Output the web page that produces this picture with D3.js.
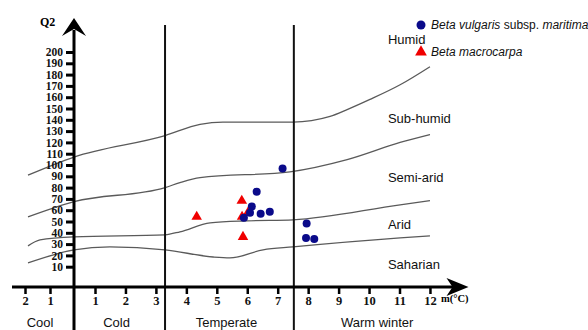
<!DOCTYPE html>
<html>
<head>
<meta charset="utf-8">
<script src="https://cdn.jsdelivr.net/npm/d3@7"></script>
<style>
  body { margin: 0; background: #fff; }
  .serif { font-family: "Liberation Serif", "DejaVu Serif", serif; font-weight: bold; }
  .sans { font-family: "Liberation Sans", Arial, sans-serif; }
</style>
</head>
<body>
<div id="chart"></div>
<script>
(function(){

  // axis ticks
  var xTicks = [-2, -1, 1, 2, 3, 4, 5, 6, 7, 8, 9, 10, 11, 12];
  var yTicks = [10, 20, 30, 40, 50, 60, 70, 80, 90, 100, 110, 120, 130, 140, 150, 160, 170, 180, 190, 200];

  // thermal zones (m boundaries)
  var zoneBounds = [0, 3.3, 7.53];
  var zoneNames = ['Cool', 'Cold', 'Temperate', 'Warm winter'];

  // bioclimatic stages and their label anchors (m, Q2)
  var stageNames = ['Humid', 'Sub-humid', 'Semi-arid', 'Arid', 'Saharian'];
  var stageQ2 = [207, 137, 85, 43, 8];
  var stageM = 10.62;

  // boundary curves between stages
  var curveM = [
    [-1.88, 0, 3.3, 4.45, 5.2, 6.42, 7.5, 8.72, 9.28, 10.03, 11.02, 12.0],
    [-1.88, 0, 3.3, 3.79, 4.45, 7.4, 9.28, 11.02, 12.0],
    [-1.88, -1.4, 0, 3.3, 3.79, 4.78, 5.99, 7.5, 11.02, 12.0],
    [-1.88, 0, 1.49, 3.3, 4.88, 5.43, 6.52, 7.5, 11.02, 12.0]
  ];
  var curveQ2 = [
    [91, 107, 126, 136, 138, 138, 138, 143, 149, 158, 171, 187],
    [54, 67.5, 80, 84.4, 88.8, 94, 104.8, 120, 127],
    [28.4, 33.7, 36.4, 38.2, 40.9, 48.8, 50.6, 51.5, 64.8, 68.4],
    [13.3, 24.9, 27.5, 24.9, 18.6, 17.8, 24.9, 27.5, 35.5, 37.3]
  ];

  // Beta vulgaris subsp. maritima
  var vulgarisM  = [7.16, 6.31, 6.15, 6.09, 5.89, 6.44, 6.74, 7.95, 7.93, 8.20];
  var vulgarisQ2 = [96.8, 76.4, 63.3, 57.7, 53.3, 56.8, 58.6, 48.2, 35.3, 34.6];
  // Beta macrocarpa
  var macroM  = [4.34, 5.82, 5.83, 6.02, 5.86];
  var macroQ2 = [54.2, 68.4, 54.2, 57.7, 36.4];

  var width = 588, height = 330;

  var x = d3.scaleLinear()
    .domain([-2.5, -2, -1, 0, 1, 13.2])
    .range([12, 25, 50, 74, 95, 466.5]);
  var y = d3.scaleLinear()
    .domain([0, 200])
    .range([278, 52]);
  var axisY = 287;

  var svg = d3.select('#chart')
    .append('svg')
    .attr('width', width)
    .attr('height', height);

  // stage boundary curves
  var line = d3.line()
    .x(function(d) {return x(d[0]);})
    .y(function(d) {return y(d[1]);})
    .curve(d3.curveMonotoneX);

  svg.selectAll('path.boundary')
    .data(curveM.map(function(ms, i) {
      return ms.map(function(m, j) {return [m, curveQ2[i][j]];});
    }))
    .enter()
    .append('path')
    .attr('class', 'boundary')
    .attr('d', line)
    .attr('fill', 'none')
    .attr('stroke', '#5a5a5a')
    .attr('stroke-width', 1.3);

  // zone separators
  svg.selectAll('line.zone')
    .data(zoneBounds.slice(1))
    .enter()
    .append('line')
    .attr('x1', function(d) {return x(d);})
    .attr('x2', function(d) {return x(d);})
    .attr('y1', 25)
    .attr('y2', height)
    .attr('stroke', '#111')
    .attr('stroke-width', 2);

  // y axis
  var yAxis = d3.axisLeft(y)
    .tickValues(yTicks)
    .tickSize(8)
    .tickPadding(3);
  var gy = svg.append('g')
    .attr('transform', 'translate(' + x(0) + ',0)')
    .call(yAxis);
  gy.select('.domain').remove();
  gy.selectAll('.tick line').attr('stroke', '#000').attr('stroke-width', 3);
  gy.selectAll('.tick text')
    .attr('class', 'serif')
    .attr('font-size', 11.5)
    .attr('fill', '#111');

  svg.append('line')
    .attr('x1', x(0)).attr('x2', x(0))
    .attr('y1', 30).attr('y2', height)
    .attr('stroke', '#000')
    .attr('stroke-width', 3);
  svg.append('path')
    .attr('d', 'M' + x(0) + ',18 L' + (x(0) + 12) + ',36 L' + x(0) + ',29 L' + (x(0) - 12) + ',36 Z')
    .attr('fill', '#000');
  svg.append('text')
    .attr('class', 'serif')
    .attr('x', 40)
    .attr('y', 26)
    .attr('font-size', 12)
    .text('Q2');

  // x axis
  var xAxis = d3.axisBottom(x)
    .tickValues(xTicks)
    .tickSize(7)
    .tickPadding(2)
    .tickFormat(function(d) {return Math.abs(d);});
  var gx = svg.append('g')
    .attr('transform', 'translate(0,' + axisY + ')')
    .call(xAxis);
  gx.select('.domain').remove();
  gx.selectAll('.tick line').attr('stroke', '#000').attr('stroke-width', 2.5);
  gx.selectAll('.tick text')
    .attr('class', 'serif')
    .attr('font-size', 12.5)
    .attr('fill', '#111');

  var xEnd = x(13.2);
  svg.append('line')
    .attr('x1', x(-2.5)).attr('x2', xEnd - 8)
    .attr('y1', axisY).attr('y2', axisY)
    .attr('stroke', '#000')
    .attr('stroke-width', 3);
  svg.append('path')
    .attr('d', 'M' + (xEnd + 2) + ',' + axisY + ' L' + (xEnd - 20) + ',' + (axisY - 9) +
      ' L' + (xEnd - 14) + ',' + axisY + ' L' + (xEnd - 20) + ',' + (axisY + 9) + ' Z')
    .attr('fill', '#000');
  svg.append('text')
    .attr('class', 'serif')
    .attr('x', 441)
    .attr('y', 302)
    .attr('font-size', 10.5)
    .text('m(°C)');

  // zone names along the bottom
  var edges = [-2.5].concat(zoneBounds, [13.2]);
  svg.selectAll('text.zoneName')
    .data(zoneNames)
    .enter()
    .append('text')
    .attr('class', 'sans zoneName')
    .attr('x', function(d, i) {return (x(edges[i]) + x(edges[i + 1])) / 2 - 3;})
    .attr('y', 327)
    .attr('text-anchor', 'middle')
    .attr('font-size', 13)
    .attr('fill', '#111')
    .text(function(d) {return d;});

  // stage names
  svg.selectAll('text.stage')
    .data(stageNames)
    .enter()
    .append('text')
    .attr('class', 'sans stage')
    .attr('x', x(stageM))
    .attr('y', function(d, i) {return y(stageQ2[i]);})
    .attr('font-size', 13)
    .attr('fill', '#111')
    .text(function(d) {return d;});

  // points
  var tri = d3.symbol().type(d3.symbolTriangle).size(48);
  svg.selectAll('path.macro')
    .data(macroM)
    .enter()
    .append('path')
    .attr('class', 'macro')
    .attr('d', tri)
    .attr('transform', function(d, i) {return 'translate(' + x(d) + ',' + y(macroQ2[i]) + ')';})
    .attr('fill', '#f00000');

  svg.selectAll('circle.vulgaris')
    .data(vulgarisM)
    .enter()
    .append('circle')
    .attr('class', 'vulgaris')
    .attr('cx', function(d) {return x(d);})
    .attr('cy', function(d, i) {return y(vulgarisQ2[i]);})
    .attr('r', 4)
    .attr('fill', '#0a0a8a');

  // legend
  var legend = svg.append('g').attr('transform', 'translate(421,0)');
  legend.append('circle')
    .attr('cx', 0).attr('cy', 25).attr('r', 4.5)
    .attr('fill', '#0a0a8a');
  var t1 = legend.append('text')
    .attr('class', 'sans')
    .attr('x', 10).attr('y', 29)
    .attr('font-size', 12)
    .attr('fill', '#111');
  t1.append('tspan').attr('font-style', 'italic').text('Beta vulgaris');
  t1.append('tspan').text(' subsp. ');
  t1.append('tspan').attr('font-style', 'italic').text('maritima');
  legend.append('path')
    .attr('d', d3.symbol().type(d3.symbolTriangle).size(60))
    .attr('transform', 'translate(0,52)')
    .attr('fill', '#f00000');
  legend.append('text')
    .attr('class', 'sans')
    .attr('x', 10).attr('y', 56)
    .attr('font-size', 12)
    .attr('font-style', 'italic')
    .attr('fill', '#111')
    .text('Beta macrocarpa');

})();
</script>
</body>
</html>
